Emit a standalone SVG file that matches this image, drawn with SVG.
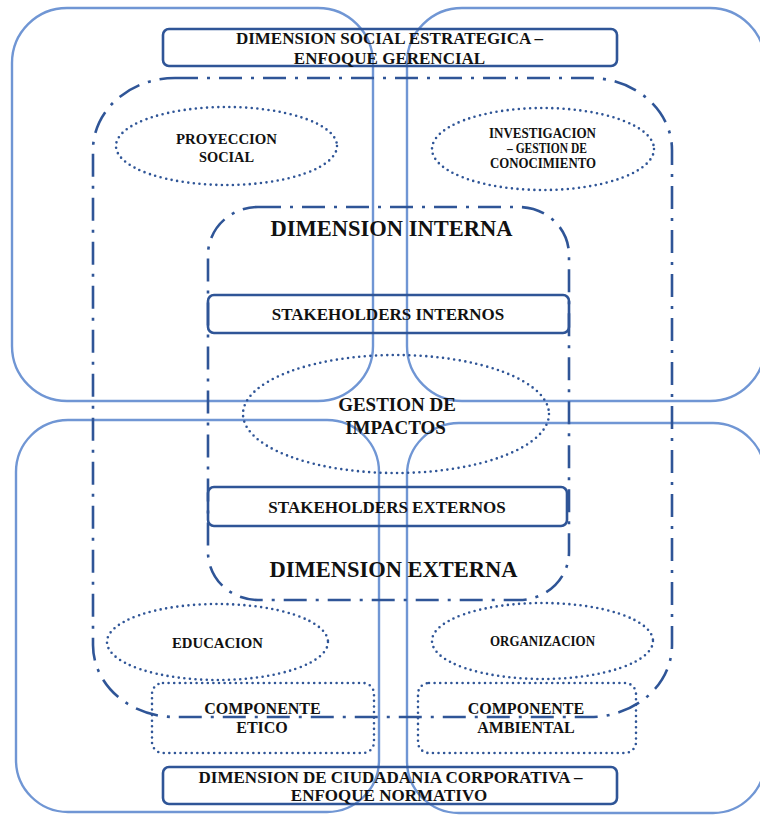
<svg xmlns="http://www.w3.org/2000/svg" width="760" height="817" viewBox="0 0 760 817">
  <style>
    .quad { fill: none; stroke: #7096d4; stroke-width: 2.4; }
    .dashdot { fill: none; stroke: #2f5597; stroke-width: 2.6; stroke-dasharray: 23 9 3 9; }
    .box { fill: none; stroke: #2f5597; stroke-width: 2.6; }
    .dotted { fill: none; stroke: #2f5597; stroke-width: 2.6; stroke-linecap: round; stroke-dasharray: 0 5.6; }
    text { font-family: "Liberation Serif", "Times New Roman", serif; font-weight: bold; fill: #111; text-anchor: middle; }
    .title { font-size: 17px; }
    .dim { font-size: 22.5px; }
    .stake { font-size: 17px; }
    .small { font-size: 14.5px; }
    .comp { font-size: 16px; }
    .center { font-size: 19px; }
  </style>

  <!-- four overlapping quadrant frames -->
  <g id="quadrants">
    <rect id="quad-top-left" class="quad" x="12" y="8" width="361" height="393" rx="55" ry="55"/>
    <rect id="quad-top-right" class="quad" x="407" y="8" width="358" height="393" rx="55" ry="55"/>
    <rect id="quad-bottom-left" class="quad" x="16" y="420" width="363" height="392" rx="52" ry="52"/>
    <rect id="quad-bottom-right" class="quad" x="407" y="423" width="358" height="390" rx="52" ry="52"/>
  </g>

  <!-- dash-dot boundaries -->
  <g id="outer-boundary">
    <rect class="dashdot" x="93" y="78" width="579" height="639" rx="82" ry="72"/>
  </g>
  <g id="inner-boundary">
    <rect class="dashdot" x="208" y="207" width="361" height="393" rx="50" ry="48"/>
  </g>

  <g id="title-top">
    <rect class="box" x="163" y="29" width="454" height="37" rx="6"/>
    <text class="title" x="389.5" y="43.5">DIMENSION SOCIAL ESTRATEGICA –</text>
    <text class="title" x="389.5" y="63.5">ENFOQUE GERENCIAL</text>
  </g>

  <g id="proyeccion-social">
    <ellipse class="dotted" cx="226.5" cy="146" rx="110.5" ry="39"/>
    <text class="small" x="226.5" y="144" textLength="101" lengthAdjust="spacingAndGlyphs">PROYECCION</text>
    <text class="small" x="226.5" y="162" textLength="55" lengthAdjust="spacingAndGlyphs">SOCIAL</text>
  </g>

  <g id="investigacion">
    <ellipse class="dotted" cx="543" cy="149" rx="111" ry="41"/>
    <text class="small" x="542.5" y="138" textLength="107" lengthAdjust="spacingAndGlyphs">INVESTIGACION</text>
    <text class="small" x="547" y="153" textLength="80" lengthAdjust="spacingAndGlyphs">– GESTION DE</text>
    <text class="small" x="543" y="168" textLength="106" lengthAdjust="spacingAndGlyphs">CONOCIMIENTO</text>
  </g>

  <g id="dimension-interna">
    <text class="dim" x="391.5" y="236">DIMENSION INTERNA</text>
  </g>

  <g id="stakeholders-internos">
    <rect class="box" x="208" y="295" width="361" height="38" rx="6"/>
    <text class="stake" x="388" y="320">STAKEHOLDERS INTERNOS</text>
  </g>

  <g id="gestion-impactos">
    <ellipse class="dotted" cx="396" cy="414" rx="153" ry="59"/>
    <text class="center" x="397" y="410.5">GESTION DE</text>
    <text class="center" x="395.5" y="433.5">IMPACTOS</text>
  </g>

  <g id="stakeholders-externos">
    <rect class="box" x="208" y="487" width="359" height="39" rx="6"/>
    <text class="stake" x="387" y="512.5">STAKEHOLDERS EXTERNOS</text>
  </g>

  <g id="dimension-externa">
    <text class="dim" x="393.5" y="577">DIMENSION EXTERNA</text>
  </g>

  <g id="educacion">
    <ellipse class="dotted" cx="217.5" cy="642" rx="110.5" ry="38"/>
    <text class="small" x="217.5" y="647.5" textLength="91" lengthAdjust="spacingAndGlyphs">EDUCACION</text>
  </g>

  <g id="organizacion">
    <ellipse class="dotted" cx="542.5" cy="641" rx="110.5" ry="38"/>
    <text class="small" x="542.5" y="646" textLength="105" lengthAdjust="spacingAndGlyphs">ORGANIZACION</text>
  </g>

  <g id="componente-etico">
    <rect class="dotted" x="152" y="683" width="222" height="70" rx="11"/>
    <text class="comp" x="262.5" y="713.5">COMPONENTE</text>
    <text class="comp" x="262" y="732.5">ETICO</text>
  </g>

  <g id="componente-ambiental">
    <rect class="dotted" x="418" y="683" width="218" height="70" rx="11"/>
    <text class="comp" x="526" y="713.5">COMPONENTE</text>
    <text class="comp" x="526" y="732.5">AMBIENTAL</text>
  </g>

  <g id="title-bottom">
    <rect class="box" x="163" y="767" width="454" height="37" rx="6"/>
    <text class="title" x="390.5" y="782.5">DIMENSION DE CIUDADANIA CORPORATIVA –</text>
    <text class="title" x="389" y="800.5">ENFOQUE NORMATIVO</text>
  </g>
</svg>
